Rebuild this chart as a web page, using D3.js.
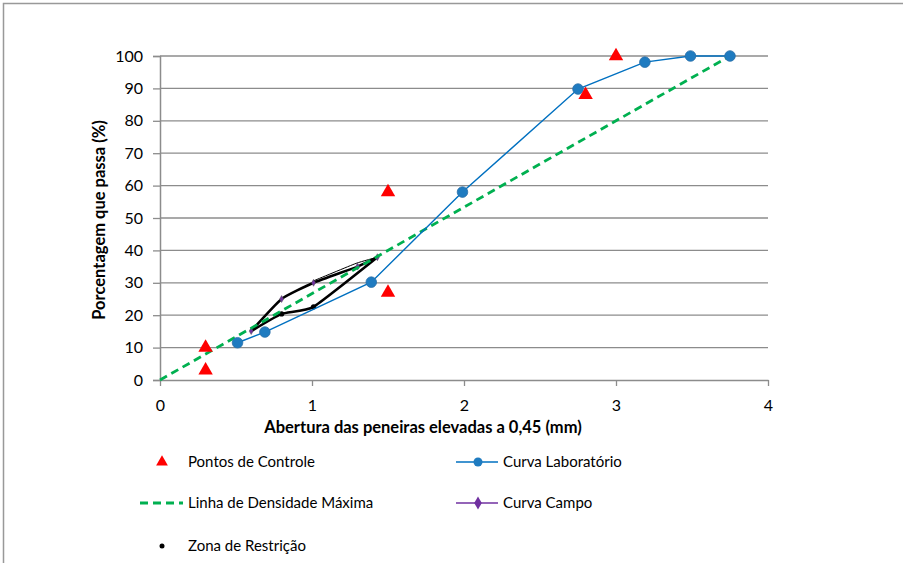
<!DOCTYPE html>
<html>
<head>
<meta charset="utf-8">
<script src="https://cdn.jsdelivr.net/npm/d3@7"></script>
<style>
  body { margin: 0; background: #fff; }
  text { font-family: Lato, "Liberation Sans", sans-serif; fill: #000; }
</style>
</head>
<body>
<div id="chart"></div>
<script>
// chart size
var w = 903, h = 563;

// control points (abertura^0.45, % passante)
var controlX = [0.3, 0.3, 1.5, 1.5, 2.8, 3.0];
var controlY = [10, 3, 58, 27, 88, 100];

// laboratory curve
var labX = [0.51, 0.69, 1.39, 1.99, 2.75, 3.19, 3.49, 3.75];
var labY = [11.5, 14.8, 30.2, 58, 89.8, 98.1, 100, 100];

// maximum density line
var densX = [0, 3.75];
var densY = [0, 100];

// restriction zone, upper and lower limits
var zoneUpX = [0.60, 0.80, 1.01, 1.30, 1.43];
var zoneUpY = [15.1, 25.0, 30.0, 35.0, 37.9];
var zoneLowX = [0.60, 0.80, 1.01, 1.43];
var zoneLowY = [15.1, 20.4, 22.6, 37.9];

var xTicks = [0, 1, 2, 3, 4];
var yTicks = [0, 10, 20, 30, 40, 50, 60, 70, 80, 90, 100];

function pts(xs, ys) { return xs.map(function(v, i) { return [v, ys[i]]; }); }

var svg = d3.select("#chart").append("svg")
    .attr("width", w).attr("height", h);

// outer frame (cut on right and bottom)
svg.append("rect")
    .attr("x", 3.5).attr("y", 3.5)
    .attr("width", w + 20).attr("height", h + 20)
    .attr("fill", "#fff").attr("stroke", "#999").attr("stroke-width", 1.5);

var x = d3.scaleLinear().domain([0, 4]).range([160, 768]);
var y = d3.scaleLinear().domain([0, 100]).range([380, 56]);

// gridlines
svg.selectAll(".grid").data(yTicks.slice(1)).enter().append("line")
    .attr("x1", x(0)).attr("x2", x(4))
    .attr("y1", function(d) { return y(d); }).attr("y2", function(d) { return y(d); })
    .attr("stroke", "#8c8c8c").attr("stroke-width", 1.3);

// y axis
var yAxis = svg.append("g").attr("transform", "translate(" + x(0) + ",0)")
    .call(d3.axisLeft(y).tickValues(yTicks).tickSize(7).tickPadding(10));
yAxis.select(".domain").attr("stroke", "#8c8c8c").attr("stroke-width", 1.5);
yAxis.selectAll(".tick line").attr("stroke", "#8c8c8c").attr("stroke-width", 1.3);
yAxis.selectAll("text").style("font-size", "16px").style("font-family", "Lato");

// x axis
var xAxis = svg.append("g").attr("transform", "translate(0," + y(0) + ")")
    .call(d3.axisBottom(x).tickValues(xTicks).tickFormat(d3.format("d"))
        .tickSize(6).tickPadding(14).tickSizeOuter(0));
xAxis.select(".domain").attr("stroke", "#8c8c8c").attr("stroke-width", 1.5);
xAxis.selectAll(".tick line").attr("stroke", "#8c8c8c").attr("stroke-width", 1.3);
xAxis.selectAll("text").style("font-size", "16px").style("font-family", "Lato");

// axis titles
svg.append("text")
    .attr("x", 423).attr("y", 433)
    .attr("text-anchor", "middle")
    .style("font-size", "16.5px").style("font-weight", "bold")
    .text("Abertura das peneiras elevadas a 0,45 (mm)");

svg.append("text")
    .attr("transform", "translate(105,220) rotate(-90)")
    .attr("text-anchor", "middle")
    .style("font-size", "16.5px").style("font-weight", "bold")
    .text("Porcentagem que passa  (%)");

var line = d3.line().x(function(d) { return x(d[0]); }).y(function(d) { return y(d[1]); });
var smooth = d3.line().curve(d3.curveCardinal.tension(0.55))
    .x(function(d) { return x(d[0]); }).y(function(d) { return y(d[1]); });

// restriction zone
svg.append("path").attr("d", smooth(pts(zoneUpX, zoneUpY)))
    .attr("fill", "none").attr("stroke", "#000").attr("stroke-width", 2.6);
svg.append("path").attr("d", smooth(pts(zoneLowX, zoneLowY)))
    .attr("fill", "none").attr("stroke", "#000").attr("stroke-width", 2.6);
svg.append("path").attr("d", smooth([[1.01, 30.6], [1.29, 36.0], [1.43, 37.9]]))
    .attr("fill", "none").attr("stroke", "#000").attr("stroke-width", 1);
svg.selectAll(".zdot").data(pts(zoneLowX, zoneLowY).slice(1, 3)).enter().append("circle")
    .attr("cx", function(d) { return x(d[0]); }).attr("cy", function(d) { return y(d[1]); })
    .attr("r", 2.6).attr("fill", "#000");
svg.selectAll(".camp").data(pts(zoneUpX, zoneUpY)).enter().append("path")
    .attr("d", d3.symbol().type(d3.symbolDiamond).size(14))
    .attr("transform", function(d) { return "translate(" + x(d[0]) + "," + y(d[1]) + ")"; })
    .attr("fill", "#7030a0").attr("stroke", "#555").attr("stroke-width", 0.5);

// maximum density line
svg.append("path").attr("d", line(pts(densX, densY)))
    .attr("fill", "none").attr("stroke", "#00b050").attr("stroke-width", 2.8)
    .attr("stroke-dasharray", "8,5");

// laboratory curve
svg.append("path").attr("d", line(pts(labX, labY)))
    .attr("fill", "none").attr("stroke", "#0070c0").attr("stroke-width", 1.4);
svg.selectAll(".lab").data(pts(labX, labY)).enter().append("circle")
    .attr("cx", function(d) { return x(d[0]); }).attr("cy", function(d) { return y(d[1]); })
    .attr("r", 5.3).attr("fill", "#1f7bc0").attr("stroke", "#2a6fa8").attr("stroke-width", 0.8);

// control points
var tri = d3.symbol().type(d3.symbolTriangle).size(90);
svg.selectAll(".ctrl").data(pts(controlX, controlY)).enter().append("path")
    .attr("d", tri)
    .attr("transform", function(d) { return "translate(" + x(d[0]) + "," + y(d[1]) + ")"; })
    .attr("fill", "#ff0000");

// legend
var lg = svg.append("g").style("font-size", "15px");
lg.append("path").attr("d", d3.symbol().type(d3.symbolTriangle).size(60))
    .attr("transform", "translate(162,462)").attr("fill", "#ff0000");
lg.append("text").attr("x", 188).attr("y", 467).text("Pontos de Controle");

lg.append("line").attr("x1", 140).attr("x2", 183).attr("y1", 503).attr("y2", 503)
    .attr("stroke", "#00b050").attr("stroke-width", 2.8).attr("stroke-dasharray", "8,5");
lg.append("text").attr("x", 188).attr("y", 508).text("Linha de Densidade Máxima");

lg.append("circle").attr("cx", 162).attr("cy", 546).attr("r", 2.5).attr("fill", "#000");
lg.append("text").attr("x", 188).attr("y", 551).text("Zona de Restrição");

lg.append("line").attr("x1", 456).attr("x2", 498).attr("y1", 462).attr("y2", 462)
    .attr("stroke", "#0070c0").attr("stroke-width", 1.4);
lg.append("circle").attr("cx", 478).attr("cy", 462).attr("r", 4.5).attr("fill", "#1f7bc0");
lg.append("text").attr("x", 503).attr("y", 467).text("Curva Laboratório");

lg.append("line").attr("x1", 456).attr("x2", 498).attr("y1", 503).attr("y2", 503)
    .attr("stroke", "#7030a0").attr("stroke-width", 1.4);
lg.append("path").attr("d", d3.symbol().type(d3.symbolDiamond).size(50))
    .attr("transform", "translate(478,503)").attr("fill", "#7030a0");
lg.append("text").attr("x", 503).attr("y", 508).text("Curva Campo");
</script>
</body>
</html>
